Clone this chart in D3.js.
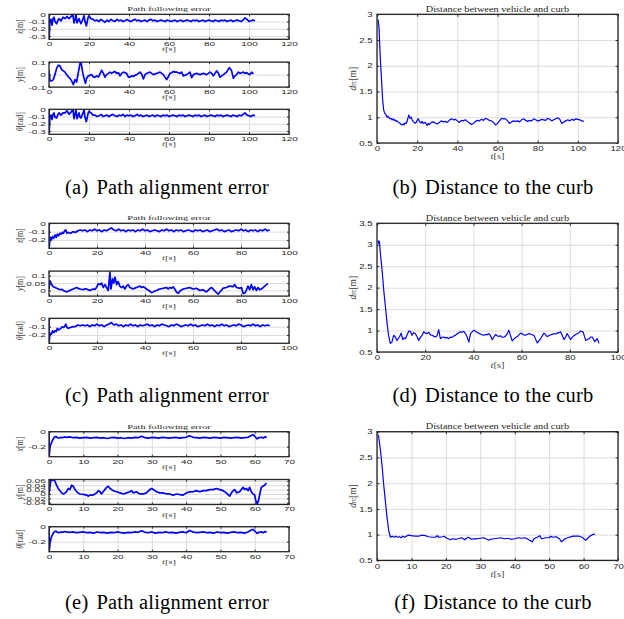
<!DOCTYPE html>
<html>
<head>
<meta charset="utf-8">
<script src="https://cdn.jsdelivr.net/npm/d3@7"></script>
<style>
body { margin: 0; background: #fff; }
svg { display: block; }
.sqL { transform: scaleY(0.6); transform-box: fill-box; transform-origin: center; }
.sqR { transform: scaleY(0.7); transform-box: fill-box; transform-origin: center; }
</style>
</head>
<body>
<script>
// ---- data ([t, value]) ----
const xTicks120 = [0, 20, 40, 60, 80, 100, 120];
const xTicks100 = [0, 20, 40, 60, 80, 100];
const xTicks70 = [0, 10, 20, 30, 40, 50, 60, 70];
const errTicksA = [-0.3, -0.2, -0.1, 0];
const yTicksA = [-0.1, 0, 0.1];
const errTicksC = [-0.2, -0.1, 0];
const yTicksC = [0, 0.05, 0.1];
const errTicksE = [-0.2, 0];
const yTicksE = [-0.04, -0.02, 0, 0.02, 0.04, 0.06];
const dTicksB = [0.5, 1, 1.5, 2, 2.5, 3];
const dTicksD = [0.5, 1, 1.5, 2, 2.5, 3, 3.5];

const xErrA = [[0,0],[0.05,-0.345],[0.4,-0.12],[1,-0.07],[1.5,-0.15],[2,-0.06],[2.5,-0.04],[3,-0.1],[3.8,-0.13],[4.5,-0.08],[5,-0.06],[6,-0.09],[7,-0.04],[8,-0.06],[9,-0.03],[10,-0.06],[11,-0.03],[12,-0.01],[12.5,-0.12],[13,-0.08],[13.5,0],[14,-0.12],[15,-0.06],[15.5,-0.1],[16,-0.13],[17,-0.06],[17.5,-0.02],[18,-0.1],[18.7,-0.16],[19.5,-0.05],[20,-0.02],[21,-0.06],[22,-0.07],[23,-0.09],[24,-0.08],[25,-0.1],[26,-0.07],[27,-0.09],[28,-0.11],[29,-0.08],[30,-0.1],[31,-0.07],[32,-0.09],[33,-0.1],[34,-0.07],[35,-0.09],[36,-0.08],[37,-0.1],[38,-0.09],[39,-0.07],[40,-0.09],[41,-0.1],[42,-0.08],[43,-0.07],[44,-0.09],[45,-0.08],[46,-0.1],[47,-0.09],[48,-0.08],[49,-0.1],[50,-0.08],[51,-0.07],[52,-0.09],[53,-0.08],[54,-0.1],[55,-0.09],[56,-0.08],[57,-0.09],[58,-0.1],[59,-0.08],[60,-0.09],[61,-0.1],[62,-0.09],[63,-0.08],[64,-0.1],[65,-0.09],[66,-0.08],[67,-0.1],[68,-0.09],[69,-0.08],[70,-0.09],[71,-0.1],[72,-0.08],[73,-0.09],[74,-0.08],[75,-0.1],[76,-0.09],[77,-0.08],[78,-0.1],[79,-0.09],[80,-0.08],[81,-0.09],[82,-0.1],[83,-0.08],[84,-0.09],[85,-0.1],[86,-0.08],[87,-0.09],[88,-0.08],[89,-0.1],[90,-0.09],[91,-0.08],[92,-0.1],[93,-0.09],[94,-0.08],[95,-0.09],[96,-0.1],[97,-0.08],[98,-0.05],[99,-0.07],[100,-0.1],[101,-0.09],[102,-0.08],[103,-0.09]];

const yErrA = [[0,0.03],[0.5,-0.05],[1.3,-0.05],[2.2,-0.04],[3,0],[3.8,0.05],[4.7,0.075],[5.5,0.07],[6.3,0.04],[7.2,0.03],[8,0.02],[8.8,0],[9.7,-0.02],[10.5,-0.03],[11.3,-0.05],[12.2,-0.08],[13,-0.04],[13.8,-0.06],[14.7,0.02],[15.5,0.09],[16,0.1],[16.8,0.02],[17.5,-0.03],[18.2,-0.07],[18.8,-0.03],[19.7,-0.01],[20.5,-0.005],[21.3,0],[22.2,-0.02],[23,-0.02],[23.8,-0.01],[24.7,-0.02],[25.5,0.005],[26.3,0.035],[27.2,0.01],[28,-0.02],[28.8,0],[30.5,0.02],[31.3,0.01],[32.2,0.02],[33,0.025],[33.8,0.01],[34.7,0.015],[35.5,-0.01],[36.3,0.01],[37.2,0.02],[38,0.015],[38.8,0.01],[39.7,-0.02],[40.5,-0.02],[41.3,-0.01],[42.2,-0.015],[43,-0.005],[43.8,0],[44.7,0.01],[45.5,0.02],[46.3,0.005],[47.2,-0.035],[48,0],[48.8,0.01],[49.7,0.015],[50.5,0.02],[51.3,0.01],[52.2,0],[53,0.005],[53.8,0.01],[54.7,0.015],[55.5,0.02],[56.3,0.01],[57.2,0],[58,-0.02],[58.8,-0.04],[59.7,-0.015],[60.5,0.01],[61.3,0.015],[62.2,0.025],[63,0.02],[63.8,0.02],[64.7,0.015],[65.5,0.01],[66.3,0.02],[67.2,-0.01],[68,-0.005],[68.8,0],[69.7,0.01],[70.5,0.02],[71.3,-0.025],[72.2,0],[73,0.005],[73.8,0.01],[74.7,0.005],[75.5,0],[76.3,0.005],[77.2,0.01],[78,0.005],[78.8,0],[79.7,0.01],[80.5,0.02],[81.3,0.01],[82.2,-0.01],[83,0.01],[83.8,0.03],[84.7,0.01],[85.5,-0.02],[86.3,-0.01],[87.2,0],[88,0.01],[88.8,0.02],[89.5,0.04],[90.2,0.055],[91.3,0.03],[92.2,-0.03],[93,-0.01],[93.8,0],[94.7,0.02],[95.5,0.01],[96.3,0.015],[97.2,0.02],[98,0.01],[98.8,0.015],[99.7,0.005],[100.5,0],[101.3,0.02],[102.2,0.005]];

const thErrA = [[0,0],[0.05,-0.345],[0.4,-0.13],[1,-0.08],[1.5,-0.14],[2,-0.07],[2.5,-0.05],[3,-0.11],[3.8,-0.12],[4.5,-0.07],[5,-0.05],[6,-0.08],[7,-0.05],[8,-0.05],[9,-0.02],[10,-0.07],[11,-0.04],[12,0],[12.5,-0.13],[13,-0.07],[13.5,-0.01],[14,-0.13],[15,-0.05],[15.5,-0.11],[16,-0.12],[17,-0.05],[17.5,-0.01],[18,-0.11],[18.7,-0.17],[19.5,-0.06],[20,-0.03],[21,-0.05],[22,-0.08],[23,-0.08],[24,-0.1],[25,-0.09],[26,-0.07],[27,-0.1],[28,-0.09],[29,-0.08],[30,-0.1],[31,-0.08],[32,-0.07],[33,-0.09],[34,-0.1],[35,-0.08],[36,-0.09],[37,-0.07],[38,-0.1],[39,-0.08],[40,-0.09],[41,-0.08],[42,-0.1],[43,-0.09],[44,-0.07],[45,-0.09],[46,-0.08],[47,-0.1],[48,-0.09],[49,-0.08],[50,-0.1],[51,-0.09],[52,-0.08],[53,-0.1],[54,-0.08],[55,-0.09],[56,-0.1],[57,-0.08],[58,-0.09],[59,-0.08],[60,-0.1],[61,-0.09],[62,-0.08],[63,-0.09],[64,-0.1],[65,-0.08],[66,-0.09],[67,-0.08],[68,-0.1],[69,-0.09],[70,-0.08],[71,-0.09],[72,-0.1],[73,-0.08],[74,-0.09],[75,-0.08],[76,-0.1],[77,-0.09],[78,-0.08],[79,-0.1],[80,-0.09],[81,-0.08],[82,-0.09],[83,-0.1],[84,-0.08],[85,-0.09],[86,-0.08],[87,-0.1],[88,-0.09],[89,-0.08],[90,-0.09],[91,-0.1],[92,-0.08],[93,-0.09],[94,-0.1],[95,-0.08],[96,-0.09],[97,-0.07],[98,-0.05],[99,-0.08],[100,-0.09],[101,-0.1],[102,-0.08],[103,-0.09]];

const dCurbB = [[0.5,2.9],[1,2.75],[1.7,2.11],[2.3,1.7],[2.8,1.34],[3.3,1.15],[3.8,1.08],[4.5,1.05],[5,1],[5.5,1.02],[6,0.99],[6.5,0.97],[7,0.98],[7.5,0.95],[8,0.97],[8.5,0.94],[9,0.95],[9.5,0.92],[10,0.93],[10.8,0.9],[11.5,0.88],[12,0.86],[12.5,0.85],[13,0.87],[13.5,0.85],[14,0.89],[14.5,0.88],[15,0.92],[15.8,1.04],[16.5,0.98],[17,1],[17.5,0.95],[18,0.92],[18.5,0.9],[19,0.88],[19.5,0.9],[20,0.94],[20.5,0.97],[21,0.93],[21.5,0.9],[22,0.89],[22.5,0.92],[23,0.88],[24,0.9],[25,0.84],[25.5,0.88],[26,0.86],[27,0.9],[28,0.91],[29,0.89],[30,0.87],[31,0.9],[32,0.93],[33,0.91],[34,0.92],[35,0.9],[36,0.94],[37,0.97],[38,0.95],[39,0.96],[40,0.93],[41,0.9],[42,0.94],[43,0.93],[44,0.95],[45,0.92],[46,0.89],[47,0.86],[48,0.88],[49,0.92],[50,0.94],[51,0.93],[52,0.96],[53,0.94],[54,0.98],[55,0.96],[56,0.94],[57,0.93],[58,0.9],[59,0.85],[60,0.88],[61,0.93],[62,0.98],[63,0.97],[64,0.97],[65,0.93],[66,0.88],[67,0.91],[68,0.93],[69,0.92],[70,0.93],[71,0.91],[72,0.95],[73,0.97],[74,0.94],[75,0.92],[76,0.94],[77,0.93],[78,0.97],[79,0.95],[80,0.93],[81,0.94],[82,0.96],[83,0.95],[84,0.94],[85,0.98],[86,0.96],[87,0.93],[88,0.95],[89,0.97],[90,0.99],[91,0.96],[92,0.88],[93,0.91],[94,0.93],[95,0.95],[96,0.93],[97,0.96],[98,0.94],[99,0.97],[100,0.96],[101,0.95],[102,0.93],[103,0.92]];

const xErrC = [[0,0],[0.05,-0.3],[0.3,-0.22],[0.7,-0.17],[1,-0.2],[1.5,-0.16],[2,-0.18],[2.5,-0.14],[3,-0.17],[3.5,-0.13],[4,-0.15],[4.5,-0.12],[5,-0.13],[5.5,-0.11],[6,-0.12],[6.5,-0.09],[7,-0.08],[7.5,-0.12],[8,-0.11],[9,-0.12],[10,-0.1],[11,-0.11],[12,-0.09],[13,-0.08],[14,-0.09],[15,-0.08],[16,-0.1],[17,-0.08],[18,-0.09],[19,-0.07],[20,-0.09],[21,-0.08],[22,-0.1],[23,-0.08],[24,-0.09],[25,-0.07],[26,-0.055],[27,-0.08],[28,-0.09],[29,-0.07],[30,-0.09],[31,-0.08],[32,-0.1],[33,-0.08],[34,-0.09],[35,-0.08],[36,-0.1],[37,-0.08],[38,-0.09],[39,-0.07],[40,-0.09],[41,-0.08],[42,-0.1],[43,-0.09],[44,-0.08],[45,-0.09],[46,-0.1],[47,-0.08],[48,-0.09],[49,-0.07],[50,-0.09],[51,-0.08],[52,-0.1],[53,-0.08],[54,-0.09],[55,-0.08],[56,-0.1],[57,-0.09],[58,-0.08],[59,-0.09],[60,-0.1],[61,-0.08],[62,-0.09],[63,-0.08],[64,-0.1],[65,-0.09],[66,-0.08],[67,-0.1],[68,-0.09],[69,-0.08],[70,-0.07],[71,-0.09],[72,-0.08],[73,-0.1],[74,-0.09],[75,-0.08],[76,-0.1],[77,-0.09],[78,-0.08],[79,-0.09],[80,-0.07],[81,-0.09],[82,-0.08],[83,-0.1],[84,-0.08],[85,-0.09],[86,-0.08],[87,-0.1],[88,-0.08],[89,-0.09],[90,-0.07],[91,-0.09],[92,-0.08]];

const yErrC = [[0,0.01],[0.4,0.065],[1.1,0.04],[1.8,0.025],[2.5,0.02],[3.2,0.015],[3.9,0.01],[4.6,0.005],[5.3,0.008],[6,0],[6.7,-0.005],[7.4,-0.01],[8,-0.004],[8.7,0],[9.4,0.006],[10.1,0.01],[10.8,0.015],[11.5,0.02],[12.2,0.014],[12.9,0.01],[13.6,0.008],[14.3,0.005],[15,0.012],[15.7,0.01],[16.4,0.004],[17.1,0],[17.8,0.006],[18.4,0.01],[19.1,0.008],[19.8,0.02],[20.5,0.045],[21.2,0.04],[21.9,0.05],[22.6,0.02],[23.3,0.04],[24,0.02],[24.7,0],[25.4,0.124],[25.8,0.01],[26.5,0.08],[27,0.05],[27.5,0.09],[28.2,0.04],[28.8,0.06],[29.5,0.03],[30.2,0.02],[30.9,0.03],[31.6,0.01],[32.3,0.03],[33,0.04],[33.7,0.02],[34.4,0.015],[35.1,0.01],[35.8,0.016],[36.5,0.02],[37.2,0.025],[37.9,0.03],[38.6,0.02],[39.3,0.025],[40,0.018],[40.6,0.01],[41.3,0.004],[42,-0.005],[42.7,-0.015],[43.4,-0.01],[44.1,-0.004],[44.8,0],[45.5,0.006],[46.2,0.01],[46.9,0.012],[47.6,0.015],[48.3,0.018],[49,0.02],[49.7,0.01],[50.3,0.02],[51,0.015],[51.7,0.025],[52.4,0.01],[53.1,-0.01],[53.8,-0.02],[54.5,-0.005],[55.2,0.004],[55.9,0.01],[56.6,0.012],[57.3,0.015],[58,0.018],[58.7,0.02],[59.4,0.014],[60.1,0.01],[60.8,0.012],[61.4,0.015],[62.1,0.008],[62.8,0],[63.5,0.002],[64.2,0.005],[64.9,-0.004],[65.6,-0.01],[66.3,0],[67,0.012],[67.7,0.02],[68.4,0.01],[69.5,-0.01],[70.5,-0.025],[71.2,-0.01],[71.8,0],[72.5,0.015],[73.2,0.018],[73.9,0.02],[74.6,0.026],[75.3,0.03],[76,0.028],[76.7,0.025],[77.4,0.04],[78.1,0.02],[78.8,0.018],[79.5,0.015],[80.2,0.02],[80.9,-0.02],[81.6,-0.02],[82.2,0],[82.9,0.03],[83.6,0.005],[84.3,0.04],[85,0.005],[85.7,0.025],[86.4,0],[87.1,0.02],[87.8,0.005],[88.5,0.01],[89.2,0.02],[89.9,0.03],[90.6,0.04],[91.3,0.045]];

const thErrC = [[0,0],[0.05,-0.3],[0.3,-0.21],[0.7,-0.18],[1,-0.19],[1.5,-0.15],[2,-0.17],[2.5,-0.15],[3,-0.16],[3.5,-0.12],[4,-0.14],[4.5,-0.13],[5,-0.12],[5.5,-0.1],[6,-0.11],[6.5,-0.1],[7,-0.07],[7.5,-0.11],[8,-0.12],[9,-0.11],[10,-0.1],[11,-0.1],[12,-0.08],[13,-0.09],[14,-0.08],[15,-0.09],[16,-0.08],[17,-0.1],[18,-0.08],[19,-0.09],[20,-0.07],[21,-0.09],[22,-0.08],[23,-0.1],[24,-0.08],[25,-0.07],[26,-0.05],[27,-0.08],[28,-0.07],[29,-0.09],[30,-0.08],[31,-0.1],[32,-0.08],[33,-0.09],[34,-0.07],[35,-0.09],[36,-0.08],[37,-0.1],[38,-0.08],[39,-0.09],[40,-0.08],[41,-0.07],[42,-0.09],[43,-0.08],[44,-0.1],[45,-0.08],[46,-0.09],[47,-0.07],[48,-0.08],[49,-0.09],[50,-0.1],[51,-0.08],[52,-0.09],[53,-0.07],[54,-0.08],[55,-0.1],[56,-0.09],[57,-0.08],[58,-0.09],[59,-0.07],[60,-0.09],[61,-0.08],[62,-0.1],[63,-0.09],[64,-0.08],[65,-0.09],[66,-0.07],[67,-0.09],[68,-0.08],[69,-0.1],[70,-0.08],[71,-0.09],[72,-0.07],[73,-0.09],[74,-0.08],[75,-0.1],[76,-0.09],[77,-0.08],[78,-0.09],[79,-0.07],[80,-0.08],[81,-0.1],[82,-0.09],[83,-0.08],[84,-0.09],[85,-0.07],[86,-0.09],[87,-0.08],[88,-0.1],[89,-0.08],[90,-0.09],[91,-0.08],[92,-0.09]];

const dCurbD = [[0.4,3.1],[0.7,3.03],[1,3.08],[1.4,2.8],[2.1,2.41],[2.8,1.94],[3.5,1.55],[4.2,1.16],[4.8,0.89],[5.5,0.7],[6.2,0.73],[6.9,0.89],[7.6,0.85],[8.3,0.77],[9.3,0.85],[10,0.94],[10.7,0.79],[11.2,0.83],[11.8,0.81],[12.5,0.9],[13.2,0.99],[13.9,0.98],[14.5,0.89],[15.2,0.95],[15.9,0.93],[16.6,0.86],[17.3,0.77],[18,0.84],[18.7,0.89],[19.4,0.97],[20.1,0.94],[20.8,0.93],[21.5,0.96],[22.2,0.9],[22.9,0.89],[23.5,0.87],[24.2,0.85],[24.9,0.88],[25.6,1.02],[26.3,0.81],[27,0.84],[27.7,0.85],[28.4,0.83],[29.1,0.84],[29.8,0.81],[30.5,0.85],[31.2,0.84],[31.8,0.87],[32.5,0.89],[33.2,0.92],[33.9,0.95],[34.6,0.97],[35.3,0.96],[36,0.98],[36.7,0.93],[37.4,0.85],[38.1,0.73],[38.8,0.93],[39.5,0.97],[40.2,1.01],[40.9,0.98],[41.5,0.96],[42.2,0.94],[42.9,0.92],[43.6,0.9],[44.3,0.89],[45,0.91],[45.7,0.9],[46.4,0.93],[47.1,0.88],[47.8,0.79],[48.5,0.85],[49.2,0.91],[49.9,0.88],[50.6,0.86],[51.2,0.88],[51.9,0.84],[52.6,0.85],[53.3,0.87],[54,0.92],[54.7,1.01],[55.4,0.88],[56.1,0.76],[56.8,0.8],[57.5,0.84],[58.2,0.86],[58.9,0.9],[59.6,0.94],[60.3,0.92],[60.9,0.9],[61.6,0.89],[62.3,0.91],[63,0.93],[63.7,0.92],[64.4,0.9],[65.1,0.89],[65.8,0.8],[66.5,0.71],[67.2,0.76],[67.9,0.81],[68.6,0.88],[69.3,0.94],[70,0.9],[70.6,0.86],[71.3,0.88],[72,0.9],[72.7,0.91],[73.4,0.93],[74.1,0.92],[74.8,0.94],[75.5,0.95],[76.2,0.97],[76.9,0.88],[77.6,0.79],[78.3,0.85],[78.9,0.93],[79.6,0.86],[80.3,0.79],[81,0.84],[81.7,0.88],[82.4,0.91],[83.1,0.93],[83.8,0.95],[84.5,0.99],[85.5,0.97],[86.6,0.77],[87.3,0.79],[88,0.81],[88.7,0.85],[89.3,0.85],[90.4,0.74],[91,0.79],[91.4,0.81],[92.1,0.7]];

const xErrE = [[0,0],[0.05,-0.333],[0.3,-0.2],[0.6,-0.16],[0.9,-0.13],[1.2,-0.1],[1.6,-0.07],[2,-0.065],[2.5,-0.08],[3,-0.085],[3.5,-0.075],[4,-0.08],[4.5,-0.07],[5,-0.075],[6,-0.07],[7,-0.08],[8,-0.075],[9,-0.085],[10,-0.08],[11,-0.075],[12,-0.085],[13,-0.08],[14,-0.075],[15,-0.085],[16,-0.08],[17,-0.09],[18,-0.08],[19,-0.075],[20,-0.085],[21,-0.08],[22,-0.09],[23,-0.08],[24,-0.085],[25,-0.075],[26,-0.08],[27,-0.06],[28,-0.08],[29,-0.085],[30,-0.075],[31,-0.08],[32,-0.085],[33,-0.075],[34,-0.08],[35,-0.085],[36,-0.08],[37,-0.075],[38,-0.085],[39,-0.08],[40,-0.075],[41,-0.055],[42,-0.075],[43,-0.08],[44,-0.085],[45,-0.075],[46,-0.08],[47,-0.085],[48,-0.075],[49,-0.08],[50,-0.085],[51,-0.075],[52,-0.08],[53,-0.085],[54,-0.08],[55,-0.075],[56,-0.085],[57,-0.08],[58,-0.075],[59,-0.05],[59.5,-0.04],[60,-0.06],[60.7,-0.095],[61.2,-0.08],[62,-0.075],[62.5,-0.085],[63,-0.07],[63.5,-0.075]];

const yErrE = [[0,0],[0.5,0.06],[1.3,0.065],[1.7,0.06],[2.2,0.04],[2.7,0.025],[3.2,0.015],[3.7,0.005],[4.2,0],[4.7,0.005],[5.1,0.01],[5.6,0.025],[6.1,0.02],[6.6,0.04],[7.1,0.035],[7.6,0.02],[8.1,0.01],[8.5,0.005],[9,0],[10,-0.002],[11,-0.005],[11.5,-0.01],[11.9,-0.005],[12.9,-0.005],[13.9,0.005],[14.4,0.015],[14.9,0.01],[15.3,0],[15.8,0.01],[16.8,0.03],[17.3,0.035],[17.8,0.025],[18.3,0.02],[18.7,0.015],[19.7,0.01],[20.7,0.005],[21.7,0],[22.6,0.005],[23.6,0.01],[24.1,0.015],[24.6,0.005],[25.5,0.01],[26.5,0],[27.5,0],[28.4,0.005],[29.4,0.02],[29.9,0.025],[30.4,0.02],[31.4,0.01],[32.3,0.005],[33.3,0.005],[34.3,0],[35.2,0],[36.2,-0.005],[37.2,0],[38.2,-0.003],[39.1,-0.005],[40.1,0.005],[41.1,0.01],[42,0.01],[43,0.015],[44,0.01],[45,0.015],[45.9,0.015],[46.9,0.02],[47.9,0.02],[48.8,0.025],[49.8,0.02],[50.8,0.015],[51.7,0.005],[52.7,-0.01],[53.2,0.005],[53.7,0.015],[54.2,0.02],[54.7,0.005],[55.6,0.01],[56.6,0.03],[57.1,0.02],[57.6,0.025],[58.1,0.015],[58.5,0.03],[59,0.01],[59.5,0],[60,-0.005],[60.3,-0.03],[60.7,-0.045],[61.1,-0.03],[61.5,0],[61.9,0.03],[62.4,0.035],[62.9,0.04],[63.4,0.05]];

const thErrE = [[0,0],[0.05,-0.333],[0.3,-0.22],[0.6,-0.15],[0.9,-0.12],[1.2,-0.09],[1.6,-0.065],[2,-0.06],[2.5,-0.075],[3,-0.08],[3.5,-0.07],[4,-0.075],[4.5,-0.065],[5,-0.07],[6,-0.075],[7,-0.07],[8,-0.08],[9,-0.075],[10,-0.07],[11,-0.08],[12,-0.075],[13,-0.085],[14,-0.07],[15,-0.08],[16,-0.075],[17,-0.085],[18,-0.075],[19,-0.08],[20,-0.07],[21,-0.08],[22,-0.085],[23,-0.075],[24,-0.08],[25,-0.07],[26,-0.075],[27,-0.055],[28,-0.075],[29,-0.08],[30,-0.07],[31,-0.085],[32,-0.075],[33,-0.08],[34,-0.07],[35,-0.08],[36,-0.075],[37,-0.085],[38,-0.075],[39,-0.07],[40,-0.08],[41,-0.05],[42,-0.07],[43,-0.08],[44,-0.075],[45,-0.07],[46,-0.08],[47,-0.075],[48,-0.085],[49,-0.07],[50,-0.08],[51,-0.075],[52,-0.085],[53,-0.075],[54,-0.07],[55,-0.08],[56,-0.075],[57,-0.085],[58,-0.07],[59,-0.045],[59.5,-0.035],[60,-0.055],[60.7,-0.09],[61.2,-0.075],[62,-0.07],[62.5,-0.08],[63,-0.065],[63.5,-0.07]];

const dCurbF = [[0.3,2.94],[0.5,2.9],[1,2.64],[1.5,2.32],[1.9,2],[2.4,1.67],[2.9,1.34],[3.4,1.08],[3.9,0.95],[4.4,0.97],[5,0.95],[5.5,0.97],[6,0.95],[6.5,0.96],[7,0.94],[7.5,0.97],[8,0.95],[8.5,0.97],[9.2,0.99],[10,0.98],[11,0.97],[12,0.97],[13.1,0.99],[14,0.98],[15,0.96],[16,0.95],[17,0.95],[17.5,0.98],[18,0.95],[19,0.96],[19.5,0.97],[20,0.94],[21.3,0.9],[22,0.92],[23,0.91],[24,0.93],[24.6,0.94],[25.5,0.9],[26,0.93],[26.5,0.95],[27.5,0.91],[28,0.92],[29,0.92],[30,0.93],[31,0.94],[32.5,0.89],[33,0.91],[34,0.92],[35,0.93],[36,0.94],[37,0.92],[38,0.93],[39,0.91],[40,0.92],[41,0.94],[42,0.93],[43,0.94],[44.1,0.9],[45.1,0.86],[45.6,0.92],[46.5,0.95],[47.3,0.98],[47.8,0.92],[49,0.94],[50,0.94],[50.5,0.97],[51,0.95],[52,0.96],[53,0.92],[53.6,0.86],[54.6,0.92],[55.8,0.95],[57,0.97],[58.7,0.97],[59.6,0.95],[60.6,0.89],[61.1,0.92],[61.8,0.97],[62.5,1],[63.3,1.01]];

// ---- drawing ----
const svg = d3.select('body').append('svg')
  .attr('width', 624)
  .attr('height', 619);

const serif = '"Liberation Serif", "Times New Roman", serif';
const sans = '"Liberation Sans", Arial, sans-serif';
let clipCount = 0;

const fmt = d => String(d);

const drawPlot = (o) => {
  const g = svg.append('g').attr('transform', `translate(${o.x0},${o.top})`);
  const w = o.x1 - o.x0, h = o.h;
  const x = d3.scaleLinear().domain([0, o.xMax]).range([0, w]);
  const y = d3.scaleLinear().domain(o.yDom).range([h, 0]);

  // grid
  const gx = g.append('g').attr('transform', `translate(0,${h})`)
    .call(d3.axisBottom(x).tickValues(o.xTicks).tickSize(-h).tickFormat(''));
  const gy = g.append('g')
    .call(d3.axisLeft(y).tickValues(o.yTicks).tickSize(-w).tickFormat(''));
  [gx, gy].forEach(s => {
    s.select('.domain').remove();
    s.selectAll('line').attr('stroke', '#dcdcdc').attr('stroke-width', 1);
  });

  // data
  const id = 'clip' + (clipCount++);
  g.append('clipPath').attr('id', id)
    .append('rect').attr('width', w).attr('height', h);
  g.append('path')
    .datum(o.data)
    .attr('clip-path', `url(#${id})`)
    .attr('fill', 'none')
    .attr('stroke', '#0000ff')
    .attr('stroke-width', o.lw)
    .attr('stroke-linejoin', 'round')
    .attr('d', d3.line().x(d => x(d[0])).y(d => y(d[1])));

  // box
  g.append('rect').attr('width', w).attr('height', h)
    .attr('fill', 'none').attr('stroke', '#262626').attr('stroke-width', 1.3);

  const style = (s) => {
    s.select('.domain').remove();
    s.attr('font-family', sans).attr('font-size', o.fs).attr('fill', '#262626');
    s.selectAll('line').attr('stroke', '#262626');
    s.selectAll('text').attr('fill', '#262626').attr('class', o.sq);
  };
  g.append('g').attr('transform', `translate(0,${h})`)
    .call(d3.axisBottom(x).tickValues(o.xTicks).tickFormat(fmt)
      .tickSizeInner(-o.tl).tickSizeOuter(0).tickPadding(o.xPad))
    .call(style);
  g.append('g')
    .call(d3.axisTop(x).tickValues(o.xTicks).tickFormat('')
      .tickSizeInner(-o.tl).tickSizeOuter(0))
    .call(style);
  g.append('g')
    .call(d3.axisLeft(y).tickValues(o.yTicks).tickFormat(fmt)
      .tickSizeInner(-o.tl).tickSizeOuter(0).tickPadding(o.yPad))
    .call(style);
  g.append('g').attr('transform', `translate(${w},0)`)
    .call(d3.axisRight(y).tickValues(o.yTicks).tickFormat('')
      .tickSizeInner(-o.tl).tickSizeOuter(0))
    .call(style);

  // x label  t[s]
  const xl = g.append('text')
    .attr('x', w / 2).attr('y', h + o.xlOff)
    .attr('text-anchor', 'middle').attr('dominant-baseline', 'central')
    .attr('font-family', serif).attr('font-size', o.lfs).attr('fill', '#404040')
    .attr('class', o.sq);
  xl.append('tspan').attr('font-style', 'italic').text('t');
  xl.append('tspan').text('[s]');

  // y label (rotated)
  const yl = g.append('text')
    .attr('transform', `translate(${o.ylX - o.x0},${h / 2}) scale(1,${o.ylScale}) rotate(-90)`)
    .attr('text-anchor', 'middle').attr('dominant-baseline', 'central')
    .attr('font-family', serif).attr('font-size', o.ylfs).attr('fill', '#404040');
  yl.append('tspan').attr('font-style', 'italic').text(o.yVar);
  if (o.ySub) {
    yl.append('tspan').attr('font-size', o.ylfs * 0.7).attr('dy', 2).text(o.ySub);
    yl.append('tspan').attr('dy', -2).text(o.yUnit);
  } else {
    yl.append('tspan').text(o.yUnit);
  }
};

const title = (text, cx, cy, sq) => {
  svg.append('text')
    .attr('x', cx).attr('y', cy)
    .attr('text-anchor', 'middle').attr('dominant-baseline', 'central')
    .attr('font-family', serif).attr('font-size', 10.3).attr('fill', '#262626')
    .attr('class', sq)
    .text(text);
};

const caption = (tag, text, cx, baseline) => {
  const t = svg.append('text')
    .attr('x', cx).attr('y', baseline)
    .attr('text-anchor', 'middle')
    .attr('font-family', serif).attr('font-size', 20.5).attr('fill', '#000')
    .attr('letter-spacing', 0.2);
  t.append('tspan').text(tag);
  t.append('tspan').attr('dx', 8).text(text);
};

// left column: three groups of three stacked error plots
const leftRows = [
  { top: 14.3, xMax: 120, xTicks: xTicks120, series: [
    { data: xErrA, dom: [-0.345, 0], ticks: errTicksA, v: 'x', u: '[m]' },
    { data: yErrA, dom: [-0.1, 0.1], ticks: yTicksA, v: 'y', u: '[m]' },
    { data: thErrA, dom: [-0.345, 0], ticks: errTicksA, v: 'θ', u: '[rad]' } ] },
  { top: 223.3, xMax: 100, xTicks: xTicks100, series: [
    { data: xErrC, dom: [-0.3, 0], ticks: errTicksC, v: 'x', u: '[m]' },
    { data: yErrC, dom: [-0.038, 0.131], ticks: yTicksC, v: 'y', u: '[m]' },
    { data: thErrC, dom: [-0.3, 0], ticks: errTicksC, v: 'θ', u: '[rad]' } ] },
  { top: 431.7, xMax: 70, xTicks: xTicks70, series: [
    { data: xErrE, dom: [-0.333, 0], ticks: errTicksE, v: 'x', u: '[m]' },
    { data: yErrE, dom: [-0.048, 0.066], ticks: yTicksE, v: 'y', u: '[m]' },
    { data: thErrE, dom: [-0.333, 0], ticks: errTicksE, v: 'θ', u: '[rad]' } ] }
];
const subOffsets = [0, 47.8, 95];

leftRows.forEach(r => {
  title('Path following error', 169, r.top - 5, 'sqL');
  r.series.forEach((s, i) => {
    drawPlot({
      x0: 49, x1: 289, top: r.top + subOffsets[i], h: 25,
      xMax: r.xMax, xTicks: r.xTicks, yDom: s.dom, yTicks: s.ticks,
      data: s.data, lw: 1.7, tl: 2, fs: 10, sq: 'sqL',
      xPad: 1, yPad: 3.3, xlOff: 10, lfs: 10.5,
      ylX: 20, ylScale: 0.75, ylfs: 10.5, yVar: s.v, yUnit: s.u
    });
  });
});

// right column: distance to the curb
const rightRows = [
  { top: 14.3, xMax: 120, xTicks: xTicks120, dom: [0.5, 3], ticks: dTicksB, data: dCurbB },
  { top: 223.3, xMax: 100, xTicks: xTicks100, dom: [0.5, 3.5], ticks: dTicksD, data: dCurbD },
  { top: 431.7, xMax: 70, xTicks: xTicks70, dom: [0.5, 3], ticks: dTicksB, data: dCurbF }
];
rightRows.forEach(r => {
  title('Distance between vehicle and curb', 497.5, r.top - 5, 'sqR');
  drawPlot({
    x0: 377, x1: 618, top: r.top, h: 128.7,
    xMax: r.xMax, xTicks: r.xTicks, yDom: r.dom, yTicks: r.ticks,
    data: r.data, lw: 1.2, tl: 2.4, fs: 9.6, sq: 'sqR',
    xPad: 2.5, yPad: 4.5, xlOff: 14, lfs: 10.5,
    ylX: 352, ylScale: 0.9, ylfs: 10.5, yVar: 'd', ySub: 'rc', yUnit: '[m]'
  });
});

// sub-captions
caption('(a)', 'Path alignment error', 167, 194);
caption('(b)', 'Distance to the curb', 493, 194);
caption('(c)', 'Path alignment error', 167, 402);
caption('(d)', 'Distance to the curb', 493, 402);
caption('(e)', 'Path alignment error', 167, 609);
caption('(f)', 'Distance to the curb', 493, 609);
</script>
</body>
</html>
